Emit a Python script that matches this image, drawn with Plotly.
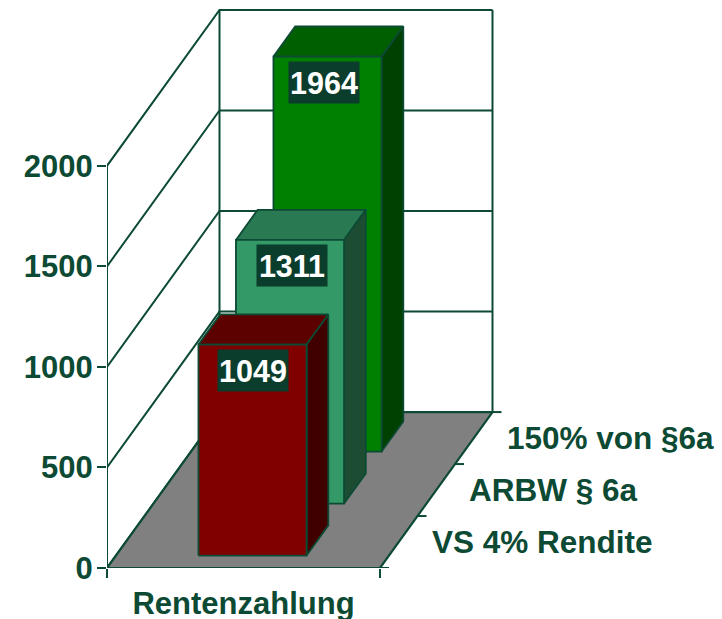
import plotly.graph_objects as go

# ---------- data ----------
categories = ["Rentenzahlung"]
series_names = ["VS 4% Rendite", "ARBW § 6a", "150% von §6a"]
series_values = [1049, 1311, 1964]
y_ticks = [0, 500, 1000, 1500, 2000]

# ---------- style ----------
INK = "#0c4a34"
BOX = "#0a3d2b"
FRONT = ["#800000", "#339966", "#008000"]
TOP = ["#5c0000", "#297a52", "#006000"]
SIDE = ["#400000", "#1c4d33", "#004000"]
FONT = "Liberation Sans, Arial, sans-serif"

W, H = 722, 619
LEFT, BASE = 107, 568.3
FRONT_W = 273.0          # pixels of one category
PX_PER_UNIT = 0.2012     # pixels of one value unit
SLOT_DX = 37.5 / FRONT_W          # depth slot, in x-axis units
SLOT_DY = 52.0 / PX_PER_UNIT      # depth slot, in y-axis units
YMAX = y_ticks[-1]
BAR_HALF = 0.198
D0, D1 = 0.24, 0.82
n = len(series_values)


def P(u, d, v):
    """Oblique projection of (category pos, depth slot, value) to axis coordinates."""
    return u + d * SLOT_DX, v + d * SLOT_DY


def poly(points):
    xs, ys = zip(*[P(*p) for p in points])
    return list(xs), list(ys)


fig = go.Figure()


def add_fill(points, fill, line=INK, w=1.8):
    x, y = poly(points + [points[0]])
    fig.add_trace(go.Scatter(x=x, y=y, mode="lines", fill="toself", fillcolor=fill,
                             line=dict(color=line, width=w), hoverinfo="skip",
                             showlegend=False, cliponaxis=False))


def add_line(points, w=2):
    x, y = poly(points)
    fig.add_trace(go.Scatter(x=x, y=y, mode="lines", line=dict(color=INK, width=w),
                             hoverinfo="skip", showlegend=False, cliponaxis=False))


# walls
for v in y_ticks:
    add_line([(0, 0, v), (0, n, v), (1, n, v)])
add_line([(0, 0, 0), (0, 0, YMAX)])
add_line([(0, n, 0), (0, n, YMAX)])
add_line([(1, n, 0), (1, n, YMAX)])

# floor
add_fill([(0, 0, 0), (1, 0, 0), (1, n, 0), (0, n, 0)], "#808080", w=2.2)

# bars, back to front
for i in reversed(range(n)):
    v = series_values[i]
    u0, u1 = 0.5 - BAR_HALF, 0.5 + BAR_HALF
    d0, d1 = i + D0, i + D1
    add_fill([(u0, d0, v), (u0, d1, v), (u1, d1, v), (u1, d0, v)], TOP[i])
    add_fill([(u1, d0, 0), (u1, d1, 0), (u1, d1, v), (u1, d0, v)], SIDE[i])
    add_fill([(u0, d0, 0), (u1, d0, 0), (u1, d0, v), (u0, d0, v)], FRONT[i])

# depth-axis ticks
tick_dx = 9 / FRONT_W
for d in range(n + 1):
    x, y = P(1, d, 0)
    fig.add_trace(go.Scatter(x=[x, x + tick_dx], y=[y, y], mode="lines",
                             line=dict(color=INK, width=2), hoverinfo="skip",
                             showlegend=False, cliponaxis=False))

annotations = []
label_shift = [0, 2, -3.5]
for i, v in enumerate(series_values):
    x, y = P(0.5, i + D0, v)
    annotations.append(dict(x=x, y=y, xref="x", yref="y", text=f"<b>{v}</b>", showarrow=False,
                            xanchor="center", yanchor="middle", xshift=label_shift[i], yshift=-26,
                            bgcolor=BOX, width=70, height=41, borderpad=0,
                            font=dict(family=FONT, size=30.5, color="white")))
for i, name in enumerate(series_names):
    x, y = P(1, i + 0.5, 0)
    annotations.append(dict(x=x, y=y, xref="x", yref="y", text=f"<b>{name}</b>", showarrow=False,
                            xanchor="left", yanchor="middle", xshift=31,
                            font=dict(family=FONT, size=31.5, color=INK)))

fig.update_layout(
    width=W, height=H, autosize=False,
    margin=dict(l=LEFT, r=0, t=0, b=H - BASE, pad=0),
    paper_bgcolor="white", plot_bgcolor="white", showlegend=False,
    annotations=annotations,
    font=dict(family=FONT, color=INK),
    xaxis=dict(range=[0, (W - LEFT) / FRONT_W], tickmode="array", tickvals=[0.5],
               ticktext=[f"<b>{categories[0]}</b>"], ticks="", showgrid=False, zeroline=False,
               showline=False, ticklabelstandoff=14, automargin=False,
               tickfont=dict(family=FONT, size=31, color=INK),
               minor=dict(tickmode="array", tickvals=[0, 1], ticks="outside", ticklen=9,
                          tickwidth=2, tickcolor=INK, showgrid=False)),
    yaxis=dict(range=[0, BASE / PX_PER_UNIT], tickmode="array", tickvals=y_ticks,
               ticktext=[f"<b>{t}</b>" for t in y_ticks], ticks="outside", ticklen=9,
               tickwidth=2, tickcolor=INK, showgrid=False, zeroline=False, showline=False,
               automargin=False, ticklabelstandoff=-2,
               tickfont=dict(family=FONT, size=31, color=INK)),
)

fig.write_html("out.html", config={"displayModeBar": False},
               post_script="document.body.style.margin='0';document.documentElement.style.overflow='hidden';")
